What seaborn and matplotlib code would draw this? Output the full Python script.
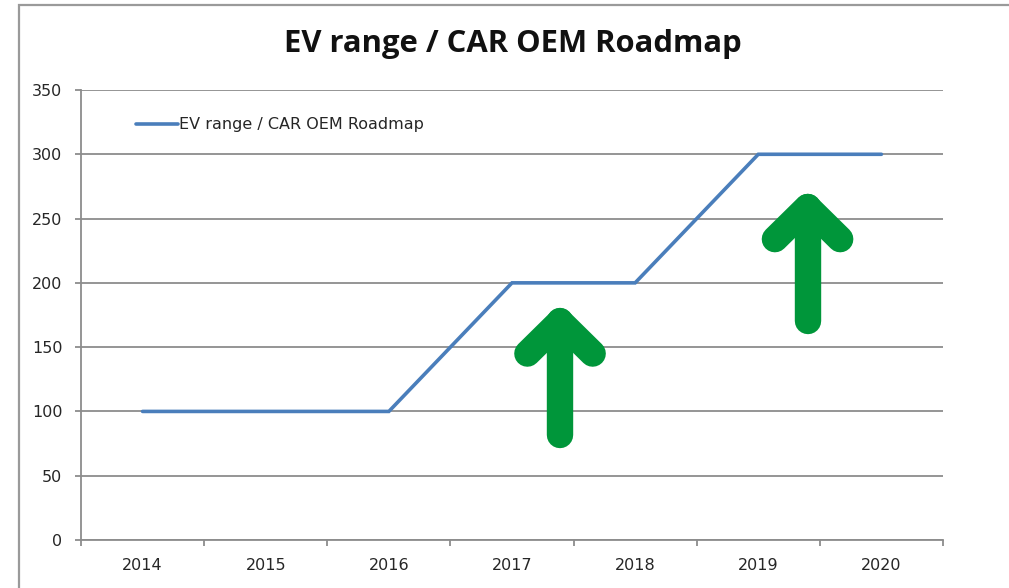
import matplotlib
matplotlib.use("Agg")
import matplotlib.pyplot as plt
import seaborn as sns
import pandas as pd
import numpy as np
from matplotlib.patches import Rectangle

years = ["2014", "2015", "2016", "2017", "2018", "2019", "2020"]
ev_range = [100, 100, 100, 200, 200, 300, 300]
y_ticks = [0, 50, 100, 150, 200, 250, 300, 350]
series_name = "EV range / CAR OEM Roadmap"
title = "EV range / CAR OEM Roadmap"

sns.set_theme(style="white")
plt.rcParams['font.family'] = ['DejaVu Sans']

W, H = 1009, 588
fig = plt.figure(figsize=(W / 100, H / 100), dpi=100)
ax = fig.add_axes([81 / W, (H - 540) / H, (943 - 81) / W, (540 - 90) / H])

df = pd.DataFrame({"year": years, "range": ev_range})
df["x"] = np.arange(len(years))
sns.lineplot(data=df, x="x", y="range", ax=ax, color="#4a7ebb", linewidth=2.6,
             label=series_name, solid_joinstyle="miter")

ax.set_xlim(-0.5, len(years) - 0.5)
ax.set_ylim(0, 350)
ax.set_yticks(y_ticks)
ax.set_yticklabels([str(v) for v in y_ticks])
ax.set_xticks(np.arange(len(years)))
ax.set_xticklabels(years)
ax.set_xticks(np.arange(len(years) + 1) - 0.5, minor=True)
ax.set_xlabel("")
ax.set_ylabel("")

grid_c = "#8c8c8c"
txt_c = "#262626"
ax.yaxis.grid(True, color=grid_c, linewidth=1.3)
ax.xaxis.grid(False)
ax.set_axisbelow(True)
for s in ["top", "right"]:
    ax.spines[s].set_visible(False)
for s in ["left", "bottom"]:
    ax.spines[s].set_color(grid_c)
    ax.spines[s].set_linewidth(1.3)

ax.tick_params(axis="x", which="major", length=0, pad=13, labelsize=11.5, labelcolor=txt_c)
ax.tick_params(axis="x", which="minor", length=4.5, width=1.3, color=grid_c, direction="out", bottom=True)
ax.tick_params(axis="y", length=4.5, width=1.3, color=grid_c, direction="out", left=True,
               pad=9, labelsize=11.5, labelcolor=txt_c)

leg = ax.legend(loc="center left", bbox_to_anchor=(55 / 862, 1 - 35 / 450), frameon=False,
                fontsize=11.5, handlelength=2.6, handletextpad=0.12, borderaxespad=0,
                borderpad=0)
for t in leg.get_texts():
    t.set_color(txt_c)

fig.text(512.5 / W, 1 - 44 / H, title, ha="center", va="center", fontsize=22.3,
         fontweight="bold", color="#111111", family=["Open Sans", "DejaVu Sans"])

# green up arrows (annotation)
arrows = [(3.39, 82, 170), (5.40, 170, 259)]
green = "#00963a"
for xc, yb, yt in arrows:
    lw = 19
    ax.plot([xc, xc], [yb, yt], color=green, linewidth=lw, solid_capstyle="round", zorder=5)
    ax.plot([xc - 0.265, xc, xc + 0.265], [yt - 25, yt, yt - 25], color=green, linewidth=lw,
            solid_capstyle="round", solid_joinstyle="round", zorder=5)

# outer chart border
fig.patches.append(Rectangle((19 / W, -0.1), 1.2, 1 - 5 / H + 0.1, transform=fig.transFigure,
                             fill=False, edgecolor="#9a9a9a", linewidth=1.6))

fig.savefig("out.png", dpi=100)
